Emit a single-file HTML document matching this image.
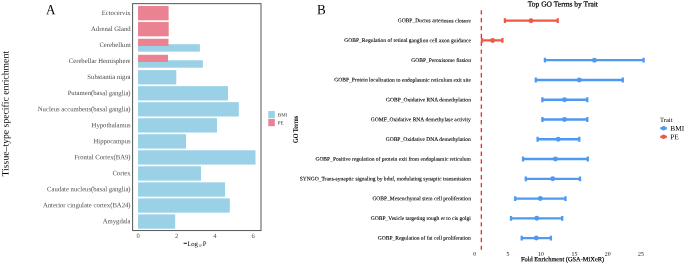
<!DOCTYPE html>
<html><head><meta charset="utf-8"><title>Figure</title>
<style>html,body{margin:0;padding:0;background:#fff;}svg{display:block;will-change:transform;font-family:"Liberation Serif",serif;}</style></head>
<body>
<svg width="685" height="264" viewBox="0 0 685 264">
<rect width="685" height="264" fill="#fff"/>
<defs><mask id="m" maskUnits="userSpaceOnUse" x="0" y="0" width="685" height="264"><rect width="685" height="264" fill="#fff"/></mask></defs>
<g mask="url(#m)">
<text transform="translate(46.1,14.3) rotate(0.03) scale(1,1.08)" font-size="13.1" fill="#000">A</text>
<text transform="translate(8.5,113.75) rotate(-89.97)" text-anchor="middle" font-size="9.72" fill="#000">Tissue–type specific enrichment</text>
<rect x="138.05" y="6.00" width="30.55" height="14.3" fill="#EA8292"/>
<text transform="rotate(0.03 130.6 15.00)" x="130.6" y="15.00" text-anchor="end" font-size="6.7" fill="#4d4d4d">Ectocervix</text>
<rect x="138.05" y="22.03" width="30.65" height="14.3" fill="#EA8292"/>
<text transform="rotate(0.03 130.6 31.03)" x="130.6" y="31.03" text-anchor="end" font-size="6.7" fill="#4d4d4d">Adrenal Gland</text>
<rect x="138.05" y="44.21" width="61.85" height="7.45" fill="#9AD1E7"/>
<rect x="138.05" y="38.76" width="30.45" height="7.15" fill="#EA8292"/>
<text transform="rotate(0.03 130.6 47.06)" x="130.6" y="47.06" text-anchor="end" font-size="6.7" fill="#4d4d4d">Cerebellum</text>
<rect x="138.05" y="60.24" width="64.85" height="7.45" fill="#9AD1E7"/>
<rect x="138.05" y="54.79" width="29.95" height="7.15" fill="#EA8292"/>
<text transform="rotate(0.03 130.6 63.09)" x="130.6" y="63.09" text-anchor="end" font-size="6.7" fill="#4d4d4d">Cerebellar Hemisphere</text>
<rect x="138.05" y="70.12" width="38.25" height="14.3" fill="#9AD1E7"/>
<text transform="rotate(0.03 130.6 79.12)" x="130.6" y="79.12" text-anchor="end" font-size="6.7" fill="#4d4d4d">Substantia nigra</text>
<rect x="138.05" y="86.15" width="89.95" height="14.3" fill="#9AD1E7"/>
<text transform="rotate(0.03 130.6 95.15)" x="130.6" y="95.15" text-anchor="end" font-size="6.7" fill="#4d4d4d">Putamen(basal ganglia)</text>
<rect x="138.05" y="102.18" width="100.75" height="14.3" fill="#9AD1E7"/>
<text transform="rotate(0.03 130.6 111.18)" x="130.6" y="111.18" text-anchor="end" font-size="6.7" fill="#4d4d4d">Nucleus accumbens(basal ganglia)</text>
<rect x="138.05" y="118.21" width="78.95" height="14.3" fill="#9AD1E7"/>
<text transform="rotate(0.03 130.6 127.21)" x="130.6" y="127.21" text-anchor="end" font-size="6.7" fill="#4d4d4d">Hypothalamus</text>
<rect x="138.05" y="134.24" width="47.95" height="14.3" fill="#9AD1E7"/>
<text transform="rotate(0.03 130.6 143.24)" x="130.6" y="143.24" text-anchor="end" font-size="6.7" fill="#4d4d4d">Hippocampus</text>
<rect x="138.05" y="150.27" width="117.45" height="14.3" fill="#9AD1E7"/>
<text transform="rotate(0.03 130.6 159.27)" x="130.6" y="159.27" text-anchor="end" font-size="6.7" fill="#4d4d4d">Frontal Cortex(BA9)</text>
<rect x="138.05" y="166.30" width="62.95" height="14.3" fill="#9AD1E7"/>
<text transform="rotate(0.03 130.6 175.30)" x="130.6" y="175.30" text-anchor="end" font-size="6.7" fill="#4d4d4d">Cortex</text>
<rect x="138.05" y="182.33" width="86.95" height="14.3" fill="#9AD1E7"/>
<text transform="rotate(0.03 130.6 191.33)" x="130.6" y="191.33" text-anchor="end" font-size="6.7" fill="#4d4d4d">Caudate nucleus(basal ganglia)</text>
<rect x="138.05" y="198.36" width="91.75" height="14.3" fill="#9AD1E7"/>
<text transform="rotate(0.03 130.6 207.36)" x="130.6" y="207.36" text-anchor="end" font-size="6.7" fill="#4d4d4d">Anterior cingulate cortex(BA24)</text>
<rect x="138.05" y="214.39" width="37.15" height="14.3" fill="#9AD1E7"/>
<text transform="rotate(0.03 130.6 223.39)" x="130.6" y="223.39" text-anchor="end" font-size="6.7" fill="#4d4d4d">Amygdala</text>
<rect x="132.6" y="3.65" width="128.4" height="226.9" fill="none" stroke="#555" stroke-width="1"/>
<text transform="rotate(0.03 138.25 238)" x="138.25" y="238" text-anchor="middle" font-size="6.6" fill="#4d4d4d">0</text>
<text transform="rotate(0.03 176.55 238)" x="176.55" y="238" text-anchor="middle" font-size="6.6" fill="#4d4d4d">2</text>
<text transform="rotate(0.03 214.85 238)" x="214.85" y="238" text-anchor="middle" font-size="6.6" fill="#4d4d4d">4</text>
<text transform="rotate(0.03 253.15 238)" x="253.15" y="238" text-anchor="middle" font-size="6.6" fill="#4d4d4d">6</text>
<rect x="183.6" y="242.8" width="3.4" height="1" fill="#111"/>
<text transform="rotate(0.03 187.5 246.1)" x="187.5" y="246.1" font-size="6.75" letter-spacing="-0.3" fill="#000">Log</text>
<text transform="rotate(0.03 197.9 247.1)" x="197.9" y="247.1" font-size="4.3" fill="#666">10</text>
<text transform="rotate(0.03 202.7 246.1)" x="202.7" y="246.1" font-size="6.75" fill="#000">P</text>
<rect x="268.3" y="111" width="6.5" height="7.2" fill="#9AD1E7"/>
<rect x="268.3" y="119" width="6.5" height="7.2" fill="#EA8292"/>
<text transform="rotate(0.03 277.8 116.4)" x="277.8" y="116.4" font-size="5" fill="#333">BMI</text>
<text transform="rotate(0.03 277.8 124.6)" x="277.8" y="124.6" font-size="5" fill="#333">PE</text>
<text transform="translate(317.1,14.3) rotate(0.03) scale(1,1.08)" font-size="13.1" fill="#000">B</text>
<text transform="translate(298.1,129.4) rotate(-89.97) scale(1,1.22)" text-anchor="middle" font-size="6.1" font-weight="bold" fill="#000">GO Terms</text>
<text transform="rotate(0.03 562.8 6.55)" x="562.8" y="6.55" text-anchor="middle" font-size="7.52" stroke="#000" stroke-width="0.22" fill="#000">Top GO Terms by Trait</text>
<line x1="481.35" y1="10.2" x2="481.35" y2="249.7" stroke="#F23030" stroke-width="1.35" stroke-dasharray="4.4,3.45"/>
<text transform="rotate(0.03 470.9 22.40)" x="470.9" y="22.40" text-anchor="end" font-size="5.53" fill="#000" stroke="#000" stroke-width="0.1">GOBP_Ductus arteriosus closure</text>
<path d="M504.9 20.70H557.7M504.9 18.30V23.10M557.7 18.30V23.10" stroke="#EE5A45" stroke-width="2.3" fill="none"/>
<circle cx="531" cy="20.70" r="2.45" fill="#EE5A45"/>
<text transform="rotate(0.03 470.9 42.16)" x="470.9" y="42.16" text-anchor="end" font-size="5.53" fill="#000" stroke="#000" stroke-width="0.1">GOBP_Regulation of retinal ganglion cell axon guidance</text>
<path d="M482 40.46H502.4M482 38.06V42.86M502.4 38.06V42.86" stroke="#EE5A45" stroke-width="2.3" fill="none"/>
<circle cx="492.6" cy="40.46" r="2.45" fill="#EE5A45"/>
<text transform="rotate(0.03 470.9 61.92)" x="470.9" y="61.92" text-anchor="end" font-size="5.53" fill="#000" stroke="#000" stroke-width="0.1">GOBP_Peroxisome fission</text>
<path d="M544.9 60.22H643.6M544.9 57.82V62.62M643.6 57.82V62.62" stroke="#4E9AF2" stroke-width="2.3" fill="none"/>
<circle cx="594.4" cy="60.22" r="2.45" fill="#4E9AF2"/>
<text transform="rotate(0.03 470.9 81.68)" x="470.9" y="81.68" text-anchor="end" font-size="5.53" fill="#000" stroke="#000" stroke-width="0.1">GOBP_Protein localization to endoplasmic reticulum exit site</text>
<path d="M535.8 79.98H622.8M535.8 77.58V82.38M622.8 77.58V82.38" stroke="#4E9AF2" stroke-width="2.3" fill="none"/>
<circle cx="579.3" cy="79.98" r="2.45" fill="#4E9AF2"/>
<text transform="rotate(0.03 470.9 101.44)" x="470.9" y="101.44" text-anchor="end" font-size="5.53" fill="#000" stroke="#000" stroke-width="0.1">GOBP_Oxidative RNA demethylation</text>
<path d="M542.4 99.74H587.3M542.4 97.34V102.14M587.3 97.34V102.14" stroke="#4E9AF2" stroke-width="2.3" fill="none"/>
<circle cx="564.5" cy="99.74" r="2.45" fill="#4E9AF2"/>
<text transform="rotate(0.03 470.9 121.20)" x="470.9" y="121.20" text-anchor="end" font-size="5.53" fill="#000" stroke="#000" stroke-width="0.1">GOMF_Oxidative RNA demethylase activity</text>
<path d="M542.4 119.50H587.3M542.4 117.10V121.90M587.3 117.10V121.90" stroke="#4E9AF2" stroke-width="2.3" fill="none"/>
<circle cx="564.5" cy="119.50" r="2.45" fill="#4E9AF2"/>
<text transform="rotate(0.03 470.9 140.96)" x="470.9" y="140.96" text-anchor="end" font-size="5.53" fill="#000" stroke="#000" stroke-width="0.1">GOBP_Oxidative DNA demethylation</text>
<path d="M537.6 139.26H579.3M537.6 136.86V141.66M579.3 136.86V141.66" stroke="#4E9AF2" stroke-width="2.3" fill="none"/>
<circle cx="558.2" cy="139.26" r="2.45" fill="#4E9AF2"/>
<text transform="rotate(0.03 470.9 160.72)" x="470.9" y="160.72" text-anchor="end" font-size="5.53" fill="#000" stroke="#000" stroke-width="0.1">GOBP_Positive regulation of protein exit from endoplasmic reticulum</text>
<path d="M523 159.02H587.8M523 156.62V161.42M587.8 156.62V161.42" stroke="#4E9AF2" stroke-width="2.3" fill="none"/>
<circle cx="555.4" cy="159.02" r="2.45" fill="#4E9AF2"/>
<text transform="rotate(0.03 470.9 180.48)" x="470.9" y="180.48" text-anchor="end" font-size="5.53" fill="#000" stroke="#000" stroke-width="0.1">SYNGO_Trans-synaptic signaling by bdnf, modulating synaptic transmission</text>
<path d="M525.8 178.78H580M525.8 176.38V181.18M580 176.38V181.18" stroke="#4E9AF2" stroke-width="2.3" fill="none"/>
<circle cx="552.7" cy="178.78" r="2.45" fill="#4E9AF2"/>
<text transform="rotate(0.03 470.9 200.24)" x="470.9" y="200.24" text-anchor="end" font-size="5.53" fill="#000" stroke="#000" stroke-width="0.1">GOBP_Mesenchymal stem cell proliferation</text>
<path d="M515.2 198.54H565.5M515.2 196.14V200.94M565.5 196.14V200.94" stroke="#4E9AF2" stroke-width="2.3" fill="none"/>
<circle cx="540.3" cy="198.54" r="2.45" fill="#4E9AF2"/>
<text transform="rotate(0.03 470.9 220.00)" x="470.9" y="220.00" text-anchor="end" font-size="5.53" fill="#000" stroke="#000" stroke-width="0.1">GOBP_Vesicle targeting rough er to cis golgi</text>
<path d="M511 218.30H562.2M511 215.90V220.70M562.2 215.90V220.70" stroke="#4E9AF2" stroke-width="2.3" fill="none"/>
<circle cx="536.8" cy="218.30" r="2.45" fill="#4E9AF2"/>
<text transform="rotate(0.03 470.9 239.76)" x="470.9" y="239.76" text-anchor="end" font-size="5.53" fill="#000" stroke="#000" stroke-width="0.1">GOBP_Regulation of fat cell proliferation</text>
<path d="M521.7 238.06H550.9M521.7 235.66V240.46M550.9 235.66V240.46" stroke="#4E9AF2" stroke-width="2.3" fill="none"/>
<circle cx="536.3" cy="238.06" r="2.45" fill="#4E9AF2"/>
<text transform="rotate(0.03 474.6 255.8)" x="474.6" y="255.8" text-anchor="middle" font-size="5.8" fill="#000">0</text>
<text transform="rotate(0.03 508 255.8)" x="508" y="255.8" text-anchor="middle" font-size="5.8" fill="#000">5</text>
<text transform="rotate(0.03 541 255.8)" x="541" y="255.8" text-anchor="middle" font-size="5.8" fill="#000">10</text>
<text transform="rotate(0.03 574.5 255.8)" x="574.5" y="255.8" text-anchor="middle" font-size="5.8" fill="#000">15</text>
<text transform="rotate(0.03 607.7 255.8)" x="607.7" y="255.8" text-anchor="middle" font-size="5.8" fill="#000">20</text>
<text transform="rotate(0.03 641 255.8)" x="641" y="255.8" text-anchor="middle" font-size="5.8" fill="#000">25</text>
<text transform="rotate(0.03 562.6 261.2)" x="562.6" y="261.2" text-anchor="middle" font-size="6.42" stroke="#000" stroke-width="0.2" fill="#000">Fold Enrichment (GSA-MiXeR)</text>
<text transform="rotate(0.03 660 122.0)" x="660" y="122.0" font-size="6.55" fill="#000">Trait</text>
<path d="M660.3 128.3H666.9"  stroke="#4E9AF2" stroke-width="2.3"/><circle cx="663.6" cy="128.3" r="2.2" fill="#4E9AF2"/>
<text transform="rotate(0.03 670.3 130.70000000000002)" x="670.3" y="130.70000000000002" font-size="7.3" fill="#000">BMI</text>
<path d="M660.3 136.8H666.9"  stroke="#EE5A45" stroke-width="2.3"/><circle cx="663.6" cy="136.8" r="2.2" fill="#EE5A45"/>
<text transform="rotate(0.03 670.3 139.20000000000002)" x="670.3" y="139.20000000000002" font-size="7.3" fill="#000">PE</text>
</g>
</svg>
</body></html>
